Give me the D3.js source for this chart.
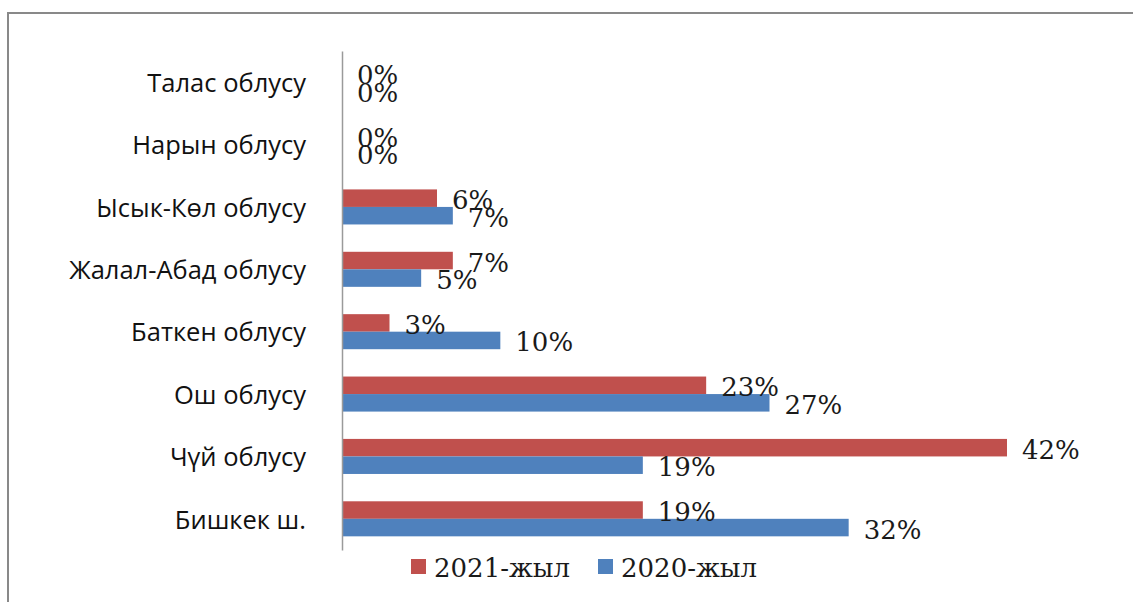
<!DOCTYPE html>
<html>
<head>
<meta charset="utf-8">
<script src="https://cdn.jsdelivr.net/npm/d3@7"></script>
<style>
  body { margin: 0; background: #fff; }
  svg { display: block; }
</style>
</head>
<body>
<div id="chart"></div>
<script>
// regions, top to bottom as in the picture
const regions = ['Талас облусу', 'Нарын облусу', 'Ысык-Көл облусу', 'Жалал-Абад облусу',
                 'Баткен облусу', 'Ош облусу', 'Чүй облусу', 'Бишкек ш.']
const values2021 = [0, 0, 6, 7, 3, 23, 42, 19]
const values2020 = [0, 0, 7, 5, 10, 27, 19, 32]
const seriesNames = ['2021-жыл', '2020-жыл']
const seriesColors = ['#c0504d', '#4f81bd']

const W = 1133, H = 602
const margin = {top: 51, left: 342, bottom: 52}
const plotH = H - margin.top - margin.bottom

const svg = d3.select('#chart').append('svg')
    .attr('width', W).attr('height', H)

// chart frame (cut off on the right and bottom)
svg.append('path')
    .attr('d', `M8,${H} V13 H${W}`)
    .attr('fill', 'none')
    .attr('stroke', '#898989')
    .attr('stroke-width', 2)

const x = d3.scaleLinear().domain([0, 42]).range([margin.left, 1007])
const y = d3.scaleBand().domain(regions).range([margin.top, margin.top + plotH])
const inner = d3.scaleBand().domain(seriesNames)
    .range([0, y.bandwidth()]).paddingOuter(0.78).paddingInner(0)

const rows = regions.map((r, i) => [
    {region: r, series: seriesNames[0], v: values2021[i]},
    {region: r, series: seriesNames[1], v: values2020[i]}
]).flat()

const g = svg.append('g')

g.selectAll('rect.bar')
  .data(rows)
  .enter().append('rect')
    .attr('class', 'bar')
    .attr('x', x(0))
    .attr('y', d => y(d.region) + inner(d.series))
    .attr('width', d => x(d.v) - x(0))
    .attr('height', inner.bandwidth())
    .attr('fill', d => seriesColors[seriesNames.indexOf(d.series)])

g.selectAll('text.val')
  .data(rows)
  .enter().append('text')
    .attr('class', 'val')
    .attr('x', d => x(d.v) + 15)
    .attr('y', d => y(d.region) + inner(d.series) + inner.bandwidth() / 2 + 11)
    .attr('font-family', '"DejaVu Serif", "Liberation Serif", serif')
    .attr('font-size', 26)
    .attr('fill', '#1a1a1a')
    .text(d => d.v + '%')

// vertical axis line and category labels
const yAxis = d3.axisLeft(y).tickSize(0).tickPadding(36)
const ax = svg.append('g')
    .attr('transform', `translate(${margin.left},0)`)
    .call(yAxis)
ax.select('.domain').attr('stroke', '#9a9a9a').attr('stroke-width', 1.5)
ax.selectAll('text')
    .attr('font-family', '"Open Sans", sans-serif')
    .attr('font-size', 25.5)
    .attr('dy', '0.38em')
    .attr('fill', '#111')

// legend
const legend = svg.append('g').attr('transform', 'translate(411,559)')
const legX = [0, 187]
seriesNames.forEach((s, i) => {
  const lg = legend.append('g').attr('transform', `translate(${legX[i]},0)`)
  lg.append('rect').attr('width', 15).attr('height', 15).attr('fill', seriesColors[i])
  lg.append('text')
      .attr('x', 23).attr('y', 18)
      .attr('font-family', '"DejaVu Serif", "Liberation Serif", serif')
      .attr('font-size', 26)
      .attr('fill', '#1a1a1a')
      .text(s)
})
</script>
</body>
</html>
